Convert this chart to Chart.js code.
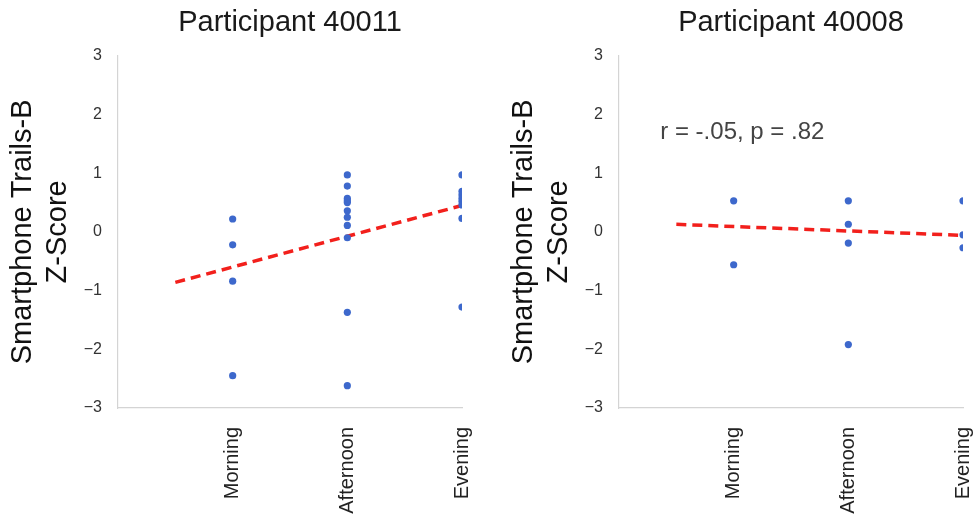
<!DOCTYPE html>
<html>
<head>
<meta charset="utf-8">
<script src="https://cdn.jsdelivr.net/npm/chart.js@4/dist/chart.umd.min.js"></script>
<style>
  html, body { margin: 0; padding: 0; background: #fff; }
  #wrap { position: relative; width: 973px; height: 515px; overflow: hidden; }
  #left { position: absolute; left: 0; top: 0; }
  #right { position: absolute; left: 501px; top: 0; }
</style>
</head>
<body>
<div id="wrap">
  <canvas id="left" width="480" height="515"></canvas>
  <canvas id="right" width="472" height="515"></canvas>
</div>
<script>
// Time of day categories (placed at x = 1, 2, 3)
const timeLabels = ["Morning", "Afternoon", "Evening"];
const yTicks = [-3, -2, -1, 0, 1, 2, 3];

// Participant 40011 z-scores
const p40011Morning = [0.22, -0.22, -0.84, -2.45];
const p40011Afternoon = [0.97, 0.78, 0.57, 0.53, 0.50, 0.36, 0.25, 0.11, -0.10, -1.37, -2.62];
const p40011Evening = [0.97, 0.69, 0.63, 0.57, 0.52, 0.46, 0.23, -1.28];
const p40011Trend = [-0.86, 0.45];

// Participant 40008 z-scores
const p40008Morning = [0.53, -0.56];
const p40008Afternoon = [0.53, 0.13, -0.19, -1.92];
const p40008Evening = [0.53, -0.05, -0.27];
const p40008Trend = [0.13, -0.06];

// trend line ends (x position)
const trendX = [0.5, 3];

const p40008Stats = "r = -.05, p = .82";
const statsPos = { x: 0.36, y: 1.69 };

const FONT = "'Liberation Sans', Arial, Helvetica, sans-serif";

const toPoints = (groups) => {
    const pts = [];
    groups.forEach((vals, i) => vals.forEach((v) => pts.push({ x: i + 1, y: v })));
    return pts;
};

// Draws the r/p note in data space
const statsNote = {
    id: "statsNote",
    afterDatasetsDraw(chart, args, opts) {
        if (!opts.text) return;
        const { ctx, scales } = chart;
        ctx.save();
        ctx.font = "24px " + FONT;
        ctx.fillStyle = "#444";
        ctx.textAlign = "left";
        ctx.textBaseline = "middle";
        ctx.fillText(opts.text, scales.x.getPixelForValue(opts.x), scales.y.getPixelForValue(opts.y));
        ctx.restore();
    },
};

const makeChart = (id, title, groups, trend, note, padRight) => {
    return new Chart(document.getElementById(id), {
        data: {
            datasets: [
                {
                    type: "scatter",
                    data: toPoints(groups),
                    backgroundColor: "#3d68cc",
                    borderWidth: 0,
                    pointRadius: 3.6,
                },
                {
                    type: "line",
                    data: trendX.map((x, i) => ({ x: x, y: trend[i] })),
                    borderColor: "#f2201c",
                    borderWidth: 3.5,
                    borderDash: [10, 6],
                    pointRadius: 0,
                    fill: false,
                },
            ],
        },
        options: {
            responsive: false,
            animation: false,
            layout: { padding: { left: 0, right: padRight, top: 0, bottom: 0 } },
            plugins: {
                legend: { display: false },
                tooltip: { enabled: false },
                title: {
                    display: true,
                    text: title,
                    fullSize: false,
                    color: "#1a1a1a",
                    font: { family: FONT, size: 29, weight: "normal" },
                    padding: { top: 6, bottom: 15 },
                },
                statsNote: note || {},
            },
            scales: {
                x: {
                    type: "linear",
                    min: 0,
                    max: 3,
                    afterBuildTicks: (scale) => {
                        scale.ticks = timeLabels.map((_, i) => ({ value: i + 1 }));
                    },
                    afterFit: (scale) => {
                        scale.height = 107;
                        scale.paddingLeft = 0;
                        scale.paddingRight = 0;
                    },
                    grid: { display: false, drawTicks: false },
                    border: { color: "#d4d4d4", width: 1.2 },
                    ticks: {
                        minRotation: 90,
                        maxRotation: 90,
                        padding: 19,
                        color: "#222",
                        font: { family: FONT, size: 20 },
                        callback: (v) => timeLabels[v - 1] || "",
                    },
                },
                y: {
                    min: -3,
                    max: 3,
                    afterBuildTicks: (scale) => {
                        scale.ticks = yTicks.map((v) => ({ value: v }));
                    },
                    afterFit: (scale) => { scale.width = 118; },
                    grid: { display: false, drawTicks: false },
                    border: { color: "#d4d4d4", width: 1.2 },
                    ticks: {
                        padding: 16,
                        color: "#333",
                        font: { family: FONT, size: 16 },
                        callback: (v) => String(v).replace("-", "\u2212"),
                    },
                    title: {
                        display: true,
                        text: ["Smartphone Trails-B", "Z-Score"],
                        color: "#111",
                        font: { family: FONT, size: 29 },
                        padding: { top: 6, bottom: 0 },
                    },
                },
            },
        },
        plugins: [statsNote],
    });
};

makeChart("left", "Participant 40011", [p40011Morning, p40011Afternoon, p40011Evening], p40011Trend, null, 18);
makeChart("right", "Participant 40008", [p40008Morning, p40008Afternoon, p40008Evening], p40008Trend,
    { text: p40008Stats, x: statsPos.x, y: statsPos.y }, 10);
</script>
</body>
</html>
